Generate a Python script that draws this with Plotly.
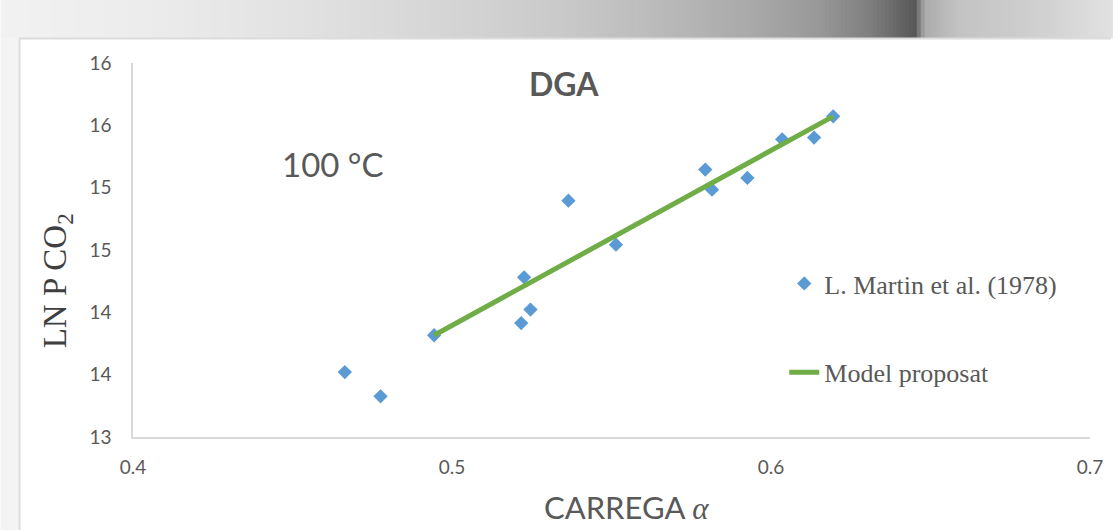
import plotly.graph_objects as go

# ---- data ----
carrega = [0.4664, 0.4776, 0.4944, 0.5217, 0.5226, 0.5246, 0.5365, 0.5514,
           0.5794, 0.5815, 0.5926, 0.6035, 0.6135, 0.6195]
ln_pco2 = [13.521, 13.326, 13.816, 13.914, 14.281, 14.022, 14.896, 14.543,
           15.145, 14.984, 15.078, 15.388, 15.402, 15.572]
model_x = [0.4944, 0.6195]
model_y = [13.816, 15.572]
y_tickvals = [13, 13.5, 14, 14.5, 15, 15.5, 16]
y_ticktext = ["13", "14", "14", "15", "15", "16", "16"]
x_tickvals = [0.4, 0.5, 0.6, 0.7]
x_ticktext = ["0.4", "0.5", "0.6", "0.7"]

W, H = 1115, 530
L, R, T, B = 133, 21, 63, 93
PW, PH = W - L - R, H - T - B


def px(x):
    return (x - L) / PW


def py(y):
    return (H - B - y) / PH


GRAY = "#595959"
SANS = "Lato"

fig = go.Figure()
fig.add_trace(go.Scatter(
    x=carrega, y=ln_pco2, mode="markers", name="L. Martin et al. (1978)",
    marker=dict(symbol="diamond", size=11, color="#5b9bd5"),
    legendgroup="a"))
fig.add_trace(go.Scatter(
    x=model_x, y=model_y, mode="lines", name="Model proposat",
    line=dict(color="#70ad47", width=5), legendgroup="b"))

shapes = []
# top decorative band (gradient approximation)
stops = [(0, 242), (150, 236), (300, 226), (450, 213), (560, 202), (650, 188),
         (750, 170), (820, 152), (870, 128), (905, 98), (916, 88), (926, 172),
         (960, 195), (1050, 210), (1115, 226)]
step = 4
for x0 in range(0, W, step):
    g = stops[-1][1]
    for i in range(len(stops) - 1):
        if stops[i][0] <= x0 <= stops[i + 1][0]:
            a, b = stops[i], stops[i + 1]
            t = (x0 - a[0]) / (b[0] - a[0])
            g = int(a[1] + t * (b[1] - a[1]))
            break
    c = f"rgb({g},{g},{g})"
    shapes.append(dict(type="rect", xref="paper", yref="paper",
                       x0=px(x0), x1=px(x0 + step + 1), y0=py(38), y1=py(0),
                       fillcolor=c, line=dict(width=0), layer="below"))
# left band
shapes.append(dict(type="rect", xref="paper", yref="paper",
                   x0=px(0), x1=px(18), y0=py(H), y1=py(38),
                   fillcolor="#f4f4f4", line=dict(width=0), layer="below"))
# chart frame border
shapes.append(dict(type="line", xref="paper", yref="paper",
                   x0=px(19), x1=px(19), y0=py(H), y1=py(38),
                   line=dict(color="#dcdcdc", width=2), layer="below"))
shapes.append(dict(type="line", xref="paper", yref="paper",
                   x0=px(19), x1=px(W), y0=py(38.5), y1=py(38.5),
                   line=dict(color="#dcdcdc", width=2), layer="below"))

fig.update_layout(
    width=W, height=H,
    margin=dict(l=L, r=R, t=T, b=B),
    paper_bgcolor="white", plot_bgcolor="white",
    shapes=shapes,
    showlegend=True,
    legend=dict(x=px(787), xanchor="left", y=py(260), yanchor="top",
                bgcolor="rgba(0,0,0,0)", traceorder="grouped",
                tracegroupgap=52,
                font=dict(family="Liberation Serif", size=26, color=GRAY)),
    xaxis=dict(range=[0.4, 0.7], tickvals=x_tickvals, ticktext=x_ticktext,
               showgrid=False, zeroline=False, showline=True,
               linecolor="#d9d9d9", linewidth=1.5, ticks="",
               ticklabelstandoff=12,
               tickfont=dict(family=SANS, size=19, color=GRAY)),
    yaxis=dict(range=[13, 16], tickvals=y_tickvals, ticktext=y_ticktext,
               showgrid=False, zeroline=False, showline=True,
               linecolor="#d9d9d9", linewidth=1.5, ticks="",
               ticklabelstandoff=16,
               tickfont=dict(family=SANS, size=19, color=GRAY)),
    annotations=[
        dict(text="<b>DGA</b>", xref="paper", yref="paper", x=px(566), y=py(83),
             xanchor="center", yanchor="middle", showarrow=False,
             font=dict(family=SANS, size=32, color=GRAY)),
        dict(text="100 °C", xref="paper", yref="paper", x=px(334), y=py(164),
             xanchor="center", yanchor="middle", showarrow=False,
             font=dict(family=SANS, size=33, color=GRAY)),
        dict(text='CARREGA <span style="font-family:Liberation Serif;font-style:italic">α</span>',
             xref="paper", yref="paper", x=px(629), y=py(507),
             xanchor="center", yanchor="middle", showarrow=False,
             font=dict(family=SANS, size=31, color=GRAY)),
        dict(text="LN P CO<sub>2</sub>", xref="paper", yref="paper",
             x=px(57), y=py(281), xanchor="center", yanchor="middle",
             textangle=-90, showarrow=False,
             font=dict(family="Liberation Serif", size=33, color="#404040")),
    ],
)

fig.write_html("out.html", config={"displayModeBar": False},
               post_script="document.body.style.margin='0px';")
